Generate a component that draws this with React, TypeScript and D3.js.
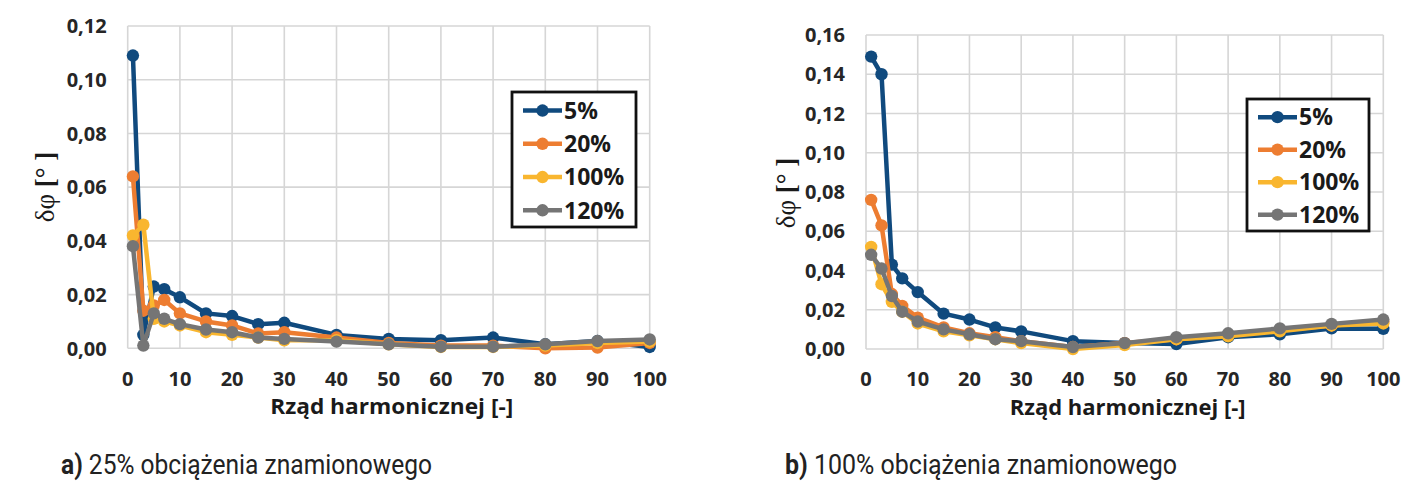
import React from "react";
import * as d3 from "d3";

const harmonics = [1, 3, 5, 7, 10, 15, 20, 25, 30, 40, 50, 60, 70, 80, 90, 100];
const seriesNames = ["5%", "20%", "100%", "120%"];
const seriesColors = ["#104a7e", "#ed7d31", "#f9b62f", "#757575"];

const a5 = [0.109, 0.005, 0.023, 0.022, 0.019, 0.013, 0.012, 0.009, 0.0095, 0.005, 0.0035, 0.003, 0.004, 0.0015, 0.0027, 0.0005];
const a20 = [0.064, 0.014, 0.016, 0.018, 0.013, 0.01, 0.0085, 0.0055, 0.006, 0.004, 0.002, 0.001, 0.001, 0.0, 0.0003, 0.002];
const a100 = [0.042, 0.046, 0.011, 0.01, 0.0085, 0.006, 0.005, 0.004, 0.003, 0.003, 0.0015, 0.0005, 0.0005, 0.001, 0.002, 0.0025];
const a120 = [0.038, 0.001, 0.013, 0.011, 0.009, 0.007, 0.006, 0.004, 0.0035, 0.0025, 0.0015, 0.0006, 0.0006, 0.0015, 0.0027, 0.0033];

const b5 = [0.149, 0.14, 0.043, 0.036, 0.029, 0.018, 0.015, 0.011, 0.009, 0.004, 0.003, 0.0025, 0.006, 0.0075, 0.0105, 0.0103];
const b20 = [0.076, 0.063, 0.028, 0.022, 0.016, 0.011, 0.008, 0.006, 0.004, 0.001, 0.003, 0.005, 0.007, 0.0095, 0.012, 0.014];
const b100 = [0.052, 0.033, 0.024, 0.019, 0.013, 0.009, 0.007, 0.005, 0.003, 0.0, 0.002, 0.005, 0.0065, 0.009, 0.012, 0.013];
const b120 = [0.048, 0.041, 0.027, 0.019, 0.014, 0.01, 0.0075, 0.005, 0.004, 0.001, 0.003, 0.006, 0.008, 0.0105, 0.0128, 0.015];

const xTicks = [0, 10, 20, 30, 40, 50, 60, 70, 80, 90, 100];
const yTicksA = [0, 0.02, 0.04, 0.06, 0.08, 0.1, 0.12];
const yTicksB = [0, 0.02, 0.04, 0.06, 0.08, 0.1, 0.12, 0.14, 0.16];

const xTitle = "Rząd harmonicznej [-]";
const captionA = ["a)", " 25% obciążenia znamionowego"];
const captionB = ["b)", " 100% obciążenia znamionowego"];

const FONT = "'Open Sans', 'DejaVu Sans', sans-serif";
const fmt = (v: number) => d3.format(".2f")(v).replace(".", ",");

type PanelProps = {
  x0: number; x1: number; yTop: number; yBottom: number; yMax: number;
  yTicks: number[]; data: number[][];
  legend: { x: number; y: number; w: number; h: number };
  yTitle: { x: number; y: number };
  caption: string[]; captionX: number; captionW: number;
  titleW: number;
};

function Panel(p: PanelProps) {
  const x = d3.scaleLinear().domain([0, 100]).range([p.x0, p.x1]);
  const y = d3.scaleLinear().domain([0, p.yMax]).range([p.yBottom, p.yTop]);
  const line = d3.line<number>().x((_, i) => x(harmonics[i])).y((d) => y(d));
  const rowH = p.legend.h / 4;
  return (
    <g>
      {p.yTicks.map((t) => (
        <line key={"gy" + t} x1={p.x0} x2={p.x1} y1={y(t)} y2={y(t)} stroke="#d6d6d6" strokeWidth={1.6} />
      ))}
      {xTicks.map((t) => (
        <line key={"gx" + t} x1={x(t)} x2={x(t)} y1={p.yTop} y2={p.yBottom} stroke="#d6d6d6" strokeWidth={1.6} />
      ))}
      {p.yTicks.map((t) => (
        <text key={"ty" + t} x={p.x0 - 21} y={y(t)} dy="0.36em" textAnchor="end" fontFamily={FONT} fontWeight={700} fontSize={20} fill="#262626">
          {fmt(t)}
        </text>
      ))}
      {xTicks.map((t) => (
        <text key={"tx" + t} x={x(t)} y={p.yBottom + 30} dy="0.36em" textAnchor="middle" fontFamily={FONT} fontWeight={700} fontSize={20} fill="#262626">
          {t}
        </text>
      ))}
      <text x={(p.x0 + p.x1) / 2 + 3} y={p.yBottom + 66} textAnchor="middle" fontFamily={FONT} fontWeight={700} fontSize={21.5} fill="#1a1a1a" textLength={p.titleW} lengthAdjust="spacingAndGlyphs">
        {xTitle}
      </text>
      <text transform={`translate(${p.yTitle.x},${p.yTitle.y}) rotate(-90)`} textAnchor="middle" dy="0.35em" fontFamily="'Liberation Serif', 'DejaVu Serif', serif" fontSize={27} fill="#1a1a1a">
        <tspan>δφ </tspan>
        <tspan fontWeight={700}>[° ]</tspan>
      </text>
      {p.data.map((s, si) => (
        <g key={"s" + si}>
          <path d={line(s) || ""} fill="none" stroke={seriesColors[si]} strokeWidth={4.5} strokeLinejoin="round" />
          {s.map((v, i) => (
            <circle key={i} cx={x(harmonics[i])} cy={y(v)} r={6.2} fill={seriesColors[si]} />
          ))}
        </g>
      ))}
      <rect x={p.legend.x} y={p.legend.y} width={p.legend.w} height={p.legend.h} fill="#fff" stroke="#111" strokeWidth={2.8} />
      {seriesNames.map((n, i) => {
        const cy = p.legend.y + rowH * 0.55 + i * (rowH * 0.985);
        const lx = p.legend.x + 11;
        return (
          <g key={"l" + n}>
            <line x1={lx} x2={lx + 39} y1={cy} y2={cy} stroke={seriesColors[i]} strokeWidth={4.5} />
            <circle cx={lx + 19.5} cy={cy} r={6.2} fill={seriesColors[i]} />
            <text x={lx + 41} y={cy} dy="0.36em" fontFamily={FONT} fontWeight={700} fontSize={23} fill="#1a1a1a">
              {n}
            </text>
          </g>
        );
      })}
      <text x={p.captionX} y={474} fontFamily="Roboto, 'Noto Sans', sans-serif" fontSize={27} fill="#222" textLength={p.captionW} lengthAdjust="spacingAndGlyphs">
        <tspan fontWeight={700}>{p.caption[0]}</tspan>
        <tspan>{p.caption[1]}</tspan>
      </text>
    </g>
  );
}

export default function App() {
  return (
    <svg width={1410} height={492} style={{ position: "absolute", left: 0, top: 0, background: "#fff" }}>
      <rect width={1410} height={492} fill="#fff" />
      <Panel x0={127.7} x1={649.7} yTop={26} yBottom={348.3} yMax={0.12} yTicks={yTicksA}
        data={[a5, a20, a100, a120]} legend={{ x: 512, y: 92, w: 124, h: 135 }}
        yTitle={{ x: 45, y: 187 }} caption={captionA} captionX={61} captionW={371}
        titleW={243} />
      <Panel x0={866} x1={1383.3} yTop={35} yBottom={349} yMax={0.16} yTicks={yTicksB}
        data={[b5, b20, b100, b120]} legend={{ x: 1247, y: 99, w: 122, h: 132 }}
        yTitle={{ x: 786, y: 193 }} caption={captionB} captionX={785} captionW={392}
        titleW={236} />
    </svg>
  );
}
